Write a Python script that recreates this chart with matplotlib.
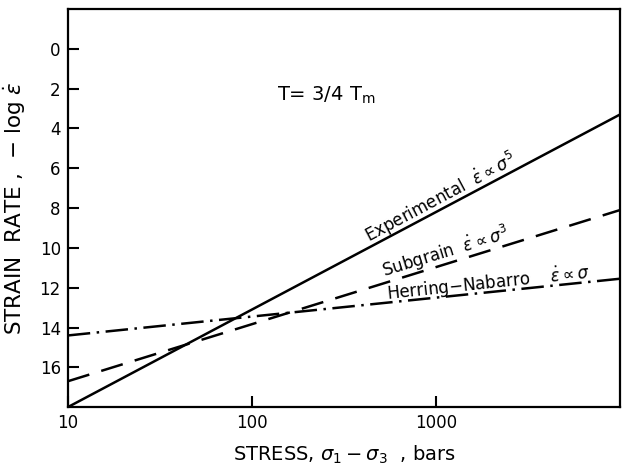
import numpy as np
import matplotlib.pyplot as plt

plt.rcParams['font.family'] = 'DejaVu Sans'
plt.rcParams['mathtext.fontset'] = 'dejavusans'

# endpoints of each creep law (stress in bars, -log strain rate)
stress = [10, 10000]
experimental = [18.0, 3.3]
subgrain = [16.7, 8.1]
herring = [14.4, 11.55]

yticks = [0, 2, 4, 6, 8, 10, 12, 14, 16]
xticks = [10, 100, 1000]

fig = plt.figure(figsize=(6.22, 4.68), dpi=100)
ax = fig.add_axes([0.109, 0.130, 0.888, 0.851])

ax.plot(stress, experimental, color='k', lw=1.8, solid_capstyle='butt')
ax.plot(stress, subgrain, color='k', lw=1.8, dashes=(9, 5))
ax.plot(stress, herring, color='k', lw=1.8, dashes=(9, 2.6, 1, 2.6))

ax.set_xscale('log')
ax.set_xlim(10, 10000)
ax.set_ylim(18, -2)

ax.set_xticks(xticks)
ax.set_xticklabels([str(v) for v in xticks])
ax.minorticks_off()
ax.set_yticks(yticks)
ax.set_yticklabels([str(v) for v in yticks])
ax.tick_params(direction='in', length=8, width=1.5, labelsize=12, pad=5)
for s in ax.spines.values():
    s.set_linewidth(1.6)

ax.set_xlabel(r'STRESS, $\sigma_1 - \sigma_3$  , bars', fontsize=14, labelpad=8)
ax.set_ylabel(r'STRAIN  RATE ,  $-$ log $\dot{\varepsilon}$', fontsize=15.5, labelpad=8)

# line labels, rotated to follow each line
ax.text(0.676, 0.525, r'Experimental  $\dot{\varepsilon} \propto \sigma^5$', transform=ax.transAxes,
        rotation=28, fontsize=12, ha='center', va='center')
ax.text(0.685, 0.39, r'Subgrain  $\dot{\varepsilon} \propto \sigma^3$', transform=ax.transAxes,
        rotation=17, fontsize=12, ha='center', va='center')
ax.text(0.762, 0.31, r'Herring$-$Nabarro    $\dot{\varepsilon} \propto \sigma$', transform=ax.transAxes,
        rotation=6, fontsize=12, ha='center', va='center')

ax.text(0.378, 0.784, r'T= 3/4 T$_\mathrm{m}$', transform=ax.transAxes, fontsize=14,
        ha='left', va='center')

fig.savefig('out.png', dpi=100)
